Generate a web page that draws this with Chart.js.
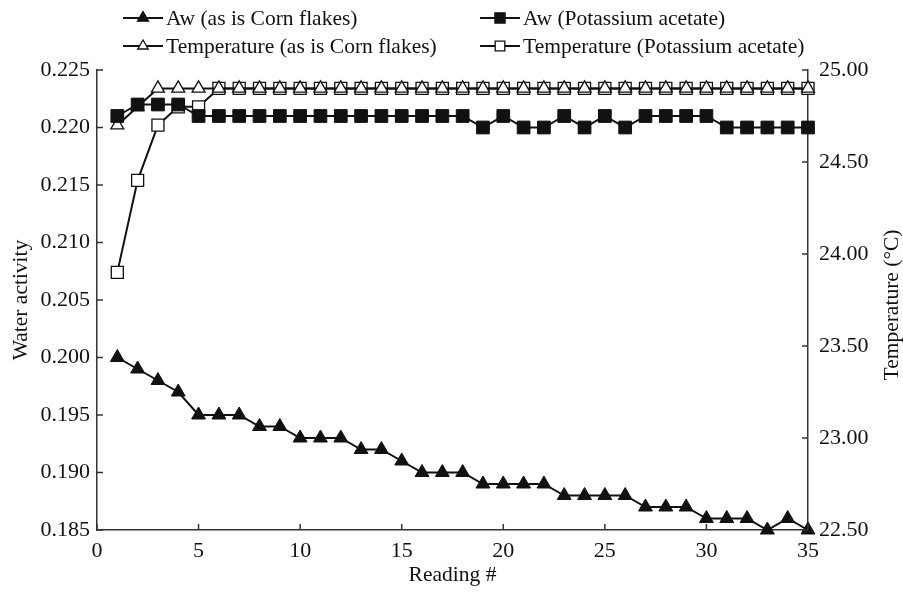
<!DOCTYPE html>
<html>
<head>
<meta charset="utf-8">
<script src="https://cdn.jsdelivr.net/npm/chart.js@4.4.1/dist/chart.umd.min.js"></script>
<style>
  html, body { margin: 0; padding: 0; background: #ffffff; }
  #wrap { width: 903px; height: 594px; }
</style>
</head>
<body>
<div id="wrap"><canvas id="c" width="903" height="594"></canvas></div>
<script>
// ---- data ----
const readings = [1,2,3,4,5,6,7,8,9,10,11,12,13,14,15,16,17,18,19,20,21,22,23,24,25,26,27,28,29,30,31,32,33,34,35];
const awCorn = [0.200,0.199,0.198,0.197,0.195,0.195,0.195,0.194,0.194,0.193,0.193,0.193,0.192,0.192,0.191,0.190,0.190,0.190,0.189,0.189,0.189,0.189,0.188,0.188,0.188,0.188,0.187,0.187,0.187,0.186,0.186,0.186,0.185,0.186,0.185];
const awKAc = [0.221,0.222,0.222,0.222,0.221,0.221,0.221,0.221,0.221,0.221,0.221,0.221,0.221,0.221,0.221,0.221,0.221,0.221,0.220,0.221,0.220,0.220,0.221,0.220,0.221,0.220,0.221,0.221,0.221,0.221,0.220,0.220,0.220,0.220,0.220];
const tempCorn = [24.70,24.80,24.90,24.90,24.90,24.90,24.90,24.90,24.90,24.90,24.90,24.90,24.90,24.90,24.90,24.90,24.90,24.90,24.90,24.90,24.90,24.90,24.90,24.90,24.90,24.90,24.90,24.90,24.90,24.90,24.90,24.90,24.90,24.90,24.90];
const tempKAc = [23.90,24.40,24.70,24.80,24.80,24.90,24.90,24.90,24.90,24.90,24.90,24.90,24.90,24.90,24.90,24.90,24.90,24.90,24.90,24.90,24.90,24.90,24.90,24.90,24.90,24.90,24.90,24.90,24.90,24.90,24.90,24.90,24.90,24.90,24.90];
const seriesNames = ["Aw (as is Corn flakes)", "Aw (Potassium acetate)", "Temperature (as is Corn flakes)", "Temperature (Potassium acetate)"];
const xTicks = [0,5,10,15,20,25,30,35];
const awTicks = [0.185,0.190,0.195,0.200,0.205,0.210,0.215,0.220,0.225];
const tempTicks = [22.50,23.00,23.50,24.00,24.50,25.00];
const xTitle = "Reading #";
const yTitle = "Water activity";
const y2Title = "Temperature (°C)";

const FONT = "'Liberation Serif', 'DejaVu Serif', serif";
const INK = '#111111';
const AXIS = '#333333';

function pts(vals) { return readings.map((r, i) => ({ x: r, y: vals[i] })); }

const legendPos = [
  { x: 123, y: 18 }, { x: 480, y: 18 },
  { x: 123, y: 46 }, { x: 480, y: 46 }
];

const legendPlugin = {
  id: 'customLegend',
  afterDraw(chart) {
    const ctx = chart.ctx;
    ctx.save();
    chart.data.datasets.forEach((ds, i) => {
      const p = legendPos[i];
      ctx.strokeStyle = INK;
      ctx.lineWidth = 2;
      ctx.beginPath();
      ctx.moveTo(p.x, p.y);
      ctx.lineTo(p.x + 40, p.y);
      ctx.stroke();
      ctx.fillStyle = ds.pointBackgroundColor;
      ctx.strokeStyle = INK;
      ctx.lineWidth = 1.3;
      Chart.helpers.drawPoint(ctx, {
        pointStyle: ds.pointStyle, rotation: 0, borderWidth: 1.3,
        radius: ds.pointRadius * 0.8
      }, p.x + 20, p.y);
      ctx.fillStyle = INK;
      ctx.font = "21.5px " + FONT;
      ctx.textBaseline = 'middle';
      ctx.textAlign = 'left';
      ctx.fillText(ds.label, p.x + 43, p.y + 1);
    });
    // right axis title, reading bottom-to-top
    const a = chart.chartArea;
    ctx.translate(892, (a.top + a.bottom) / 2 + 5);
    ctx.rotate(-Math.PI / 2);
    ctx.font = "21.5px " + FONT;
    ctx.fillStyle = INK;
    ctx.textAlign = 'center';
    ctx.textBaseline = 'middle';
    ctx.fillText(y2Title, 0, 0);
    ctx.restore();
  }
};

// inward tick marks drawn from the library's scales
const inwardTicks = {
  id: 'inwardTicks',
  afterDatasetsDraw(chart) {
    const ctx = chart.ctx;
    const a = chart.chartArea;
    ctx.save();
    ctx.strokeStyle = AXIS;
    ctx.lineWidth = 1.5;
    const L = 6;
    chart.scales.x.ticks.forEach(t => {
      const px = chart.scales.x.getPixelForValue(t.value);
      ctx.beginPath(); ctx.moveTo(px, a.bottom); ctx.lineTo(px, a.bottom - L); ctx.stroke();
    });
    chart.scales.y.ticks.forEach(t => {
      const py = chart.scales.y.getPixelForValue(t.value);
      ctx.beginPath(); ctx.moveTo(a.left, py); ctx.lineTo(a.left + L, py); ctx.stroke();
    });
    chart.scales.y2.ticks.forEach(t => {
      const py = chart.scales.y2.getPixelForValue(t.value);
      ctx.beginPath(); ctx.moveTo(a.right, py); ctx.lineTo(a.right - L, py); ctx.stroke();
    });
    ctx.restore();
  }
};

new Chart(document.getElementById('c'), {
  type: 'line',
  data: {
    datasets: [
      { label: seriesNames[0], data: pts(awCorn), yAxisID: 'y', borderColor: INK, borderWidth: 2,
        pointStyle: 'triangle', pointRadius: 8, pointBackgroundColor: INK, pointBorderColor: INK, pointBorderWidth: 1, order: 1 },
      { label: seriesNames[1], data: pts(awKAc), yAxisID: 'y', borderColor: INK, borderWidth: 2,
        pointStyle: 'rect', pointRadius: 9, pointBackgroundColor: INK, pointBorderColor: INK, pointBorderWidth: 1, order: 2 },
      { label: seriesNames[2], data: pts(tempCorn), yAxisID: 'y2', borderColor: INK, borderWidth: 2,
        pointStyle: 'triangle', pointRadius: 7.5, pointBackgroundColor: '#ffffff', pointBorderColor: INK, pointBorderWidth: 1.3, order: 3 },
      { label: seriesNames[3], data: pts(tempKAc), yAxisID: 'y2', borderColor: INK, borderWidth: 2,
        pointStyle: 'rect', pointRadius: 8.5, pointBackgroundColor: '#ffffff', pointBorderColor: INK, pointBorderWidth: 1.3, order: 4 }
    ]
  },
  options: {
    responsive: false,
    animation: false,
    clip: false,
    layout: { padding: { top: 70, left: 0, right: 0, bottom: 0 } },
    plugins: { legend: { display: false }, tooltip: { enabled: false } },
    elements: { line: { tension: 0 } },
    scales: {
      x: {
        type: 'linear', min: 0, max: 35,
        afterBuildTicks(s) { s.ticks = xTicks.map(v => ({ value: v })); },
        afterFit(s) { s.height = 64; },
        grid: { display: true, drawOnChartArea: false, drawTicks: false, color: AXIS },
        border: { display: true, color: AXIS, width: 1.5 },
        ticks: { color: INK, font: { family: FONT, size: 22 }, padding: 8, callback: v => String(v) },
        title: { display: true, text: xTitle, color: INK, font: { family: FONT, size: 21.5 }, padding: { top: 0, bottom: 6 } }
      },
      y: {
        type: 'linear', position: 'left', min: 0.185, max: 0.225,
        afterBuildTicks(s) { s.ticks = awTicks.map(v => ({ value: v })); },
        afterFit(s) { s.width = 97; },
        grid: { display: true, drawOnChartArea: false, drawTicks: false, color: AXIS },
        border: { display: true, color: AXIS, width: 1.5 },
        ticks: { color: INK, font: { family: FONT, size: 22 }, padding: 7, callback: v => Number(v).toFixed(3) },
        title: { display: true, text: yTitle, color: INK, font: { family: FONT, size: 21.5 }, padding: { top: 8, bottom: 0 } }
      },
      y2: {
        type: 'linear', position: 'right', min: 22.5, max: 25,
        afterBuildTicks(s) { s.ticks = tempTicks.map(v => ({ value: v })); },
        afterFit(s) { s.width = 95; },
        grid: { display: true, drawOnChartArea: false, drawTicks: false, color: AXIS },
        border: { display: true, color: AXIS, width: 1.5 },
        ticks: { color: INK, font: { family: FONT, size: 22 }, padding: 11, callback: v => Number(v).toFixed(2) },
        title: { display: false, text: y2Title }
      }
    }
  },
  plugins: [inwardTicks, legendPlugin]
});
</script>
</body>
</html>
